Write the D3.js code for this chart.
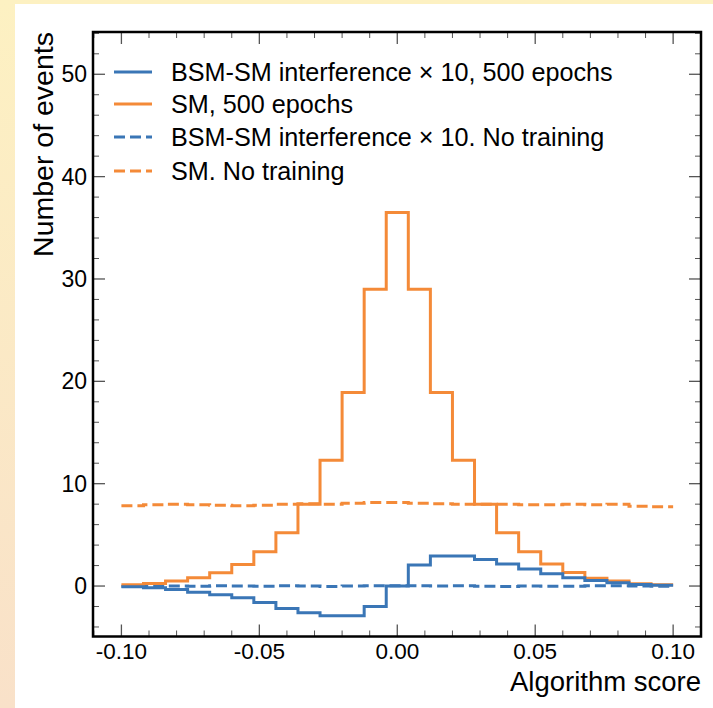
<!DOCTYPE html>
<html><head><meta charset="utf-8">
<script src="https://cdn.jsdelivr.net/npm/d3@7"></script>
<style>
html,body{margin:0;padding:0;}
body{width:713px;height:708px;background:linear-gradient(to bottom,#fdf1c2,#f9e1c9);overflow:hidden;}
svg{display:block;}
text{font-family:"Liberation Sans",Arial,Helvetica,sans-serif;fill:#000;}
</style></head>
<body>
<svg id="c" width="713" height="708"></svg>
<script>
// bin edges: 25 bins from -0.1 to 0.1
const binEdges = d3.range(26).map(i => -0.1 + i * 0.008);
const smTrained = [0.13,0.25,0.5,0.8,1.3,2.1,3.35,5.2,8.0,12.3,18.9,29.0,36.5,29.0,18.9,12.3,8.0,5.2,3.35,2.15,1.33,0.75,0.49,0.23,0.13];
const bsmTrained = [-0.07,-0.17,-0.35,-0.6,-0.85,-1.15,-1.6,-2.2,-2.6,-2.9,-2.9,-2.0,0.0,2.05,2.93,2.93,2.6,2.15,1.66,1.2,0.8,0.55,0.33,0.16,0.07];
const smUntrained = [7.85,7.95,8.0,7.95,7.9,7.85,7.9,8.0,8.05,8.0,8.1,8.15,8.15,8.1,8.05,8.0,8.0,8.0,7.95,7.95,8.0,7.95,8.0,7.8,7.75];
const bsmUntrained = [-0.02,-0.04,0.0,-0.03,0.02,0.0,-0.02,0.03,0.0,-0.04,0.0,0.02,0.04,0.03,0.0,0.02,-0.03,-0.05,0.0,-0.03,-0.02,0.02,0.03,0.0,-0.02];
const seriesNames = ["BSM-SM interference \u00d7 10, 500 epochs","SM, 500 epochs","BSM-SM interference \u00d7 10. No training","SM. No training"];
const xTicks = [-0.10,-0.05,0.00,0.05,0.10];
const yTicks = [0,10,20,30,40,50];
const xLabel = "Algorithm score";
const yLabel = "Number of events";

const BLUE = "#3a76b6", ORANGE = "#f48a38";
const svg = d3.select("#c");
svg.append("rect").attr("x",15).attr("y",4).attr("width",698).attr("height",704).attr("fill","#fff");

const L=93, R=701, T=32, B=636.5;
const x = d3.scaleLinear().domain([-0.1103,0.1101]).range([L,R]);
const y = d3.scaleLinear().domain([-4.93,54.13]).range([B,T]);

function stepPath(vals){
  const pts=[];
  vals.forEach((v,i)=>{ pts.push([x(binEdges[i]),y(v)]); pts.push([x(binEdges[i+1]),y(v)]); });
  return d3.line()(pts);
}
const series = [
  {vals:smUntrained,color:ORANGE,dash:"11,5"},
  {vals:bsmUntrained,color:BLUE,dash:"11,5"},
  {vals:smTrained,color:ORANGE,dash:null},
  {vals:bsmTrained,color:BLUE,dash:null}
];
const g = svg.append("g");
series.forEach(s=>{
  g.append("path").attr("d",stepPath(s.vals)).attr("fill","none")
   .attr("stroke",s.color).attr("stroke-width",3).attr("stroke-linejoin","miter")
   .attr("stroke-dasharray",s.dash);
});

// ticks
const tickCol="#555";
const xMinor = d3.range(-11,12).map(i=>i*0.01).filter(v=>v>=-0.1101&&v<=0.1101);
const yMinor = d3.range(-2,28).map(i=>i*2).filter(v=>v>=-4.9&&v<=54);
const ax = svg.append("g");
[[B,-1],[T,1]].forEach(([yy,dir])=>{
  xMinor.forEach(v=>{
    const major = xTicks.some(t=>Math.abs(t-v)<1e-9);
    ax.append("line").attr("x1",x(v)).attr("x2",x(v)).attr("y1",yy).attr("y2",yy+dir*(major?12:6))
      .attr("stroke",tickCol).attr("stroke-width",major?1.3:1);
  });
});
[[L,1],[R,-1]].forEach(([xx,dir])=>{
  yMinor.forEach(v=>{
    const major = yTicks.includes(v);
    ax.append("line").attr("y1",y(v)).attr("y2",y(v)).attr("x1",xx).attr("x2",xx+dir*(major?12:6))
      .attr("stroke",tickCol).attr("stroke-width",major?1.3:1);
  });
});
svg.append("rect").attr("x",L).attr("y",T).attr("width",R-L).attr("height",B-T)
  .attr("fill","none").attr("stroke","#000").attr("stroke-width",2.5);

xTicks.forEach(v=>{
  svg.append("text").attr("x",x(v)).attr("y",659).attr("text-anchor","middle")
    .attr("font-size",22.5).text(d3.format(".2f")(v).replace("\u2212","-"));
});
yTicks.forEach(v=>{
  svg.append("text").attr("x",87).attr("y",y(v)+8).attr("text-anchor","end")
    .attr("font-size",23).text(v);
});
svg.append("text").attr("x",R).attr("y",691).attr("text-anchor","end").attr("font-size",27.5).text(xLabel);
svg.append("text").attr("transform",`translate(53,${T}) rotate(-90)`).attr("text-anchor","end").attr("font-size",28.5).text(yLabel);

// legend
const legY=[72,104,137,171];
const legStyle=[{c:BLUE,d:null},{c:ORANGE,d:null},{c:BLUE,d:"11,5"},{c:ORANGE,d:"11,5"}];
seriesNames.forEach((n,i)=>{
  svg.append("line").attr("x1",114).attr("x2",152).attr("y1",legY[i]).attr("y2",legY[i])
    .attr("stroke",legStyle[i].c).attr("stroke-width",3).attr("stroke-dasharray",legStyle[i].d);
  svg.append("text").attr("x",171).attr("y",legY[i]+9).attr("font-size",25.2).text(n);
});
</script>
</body></html>
